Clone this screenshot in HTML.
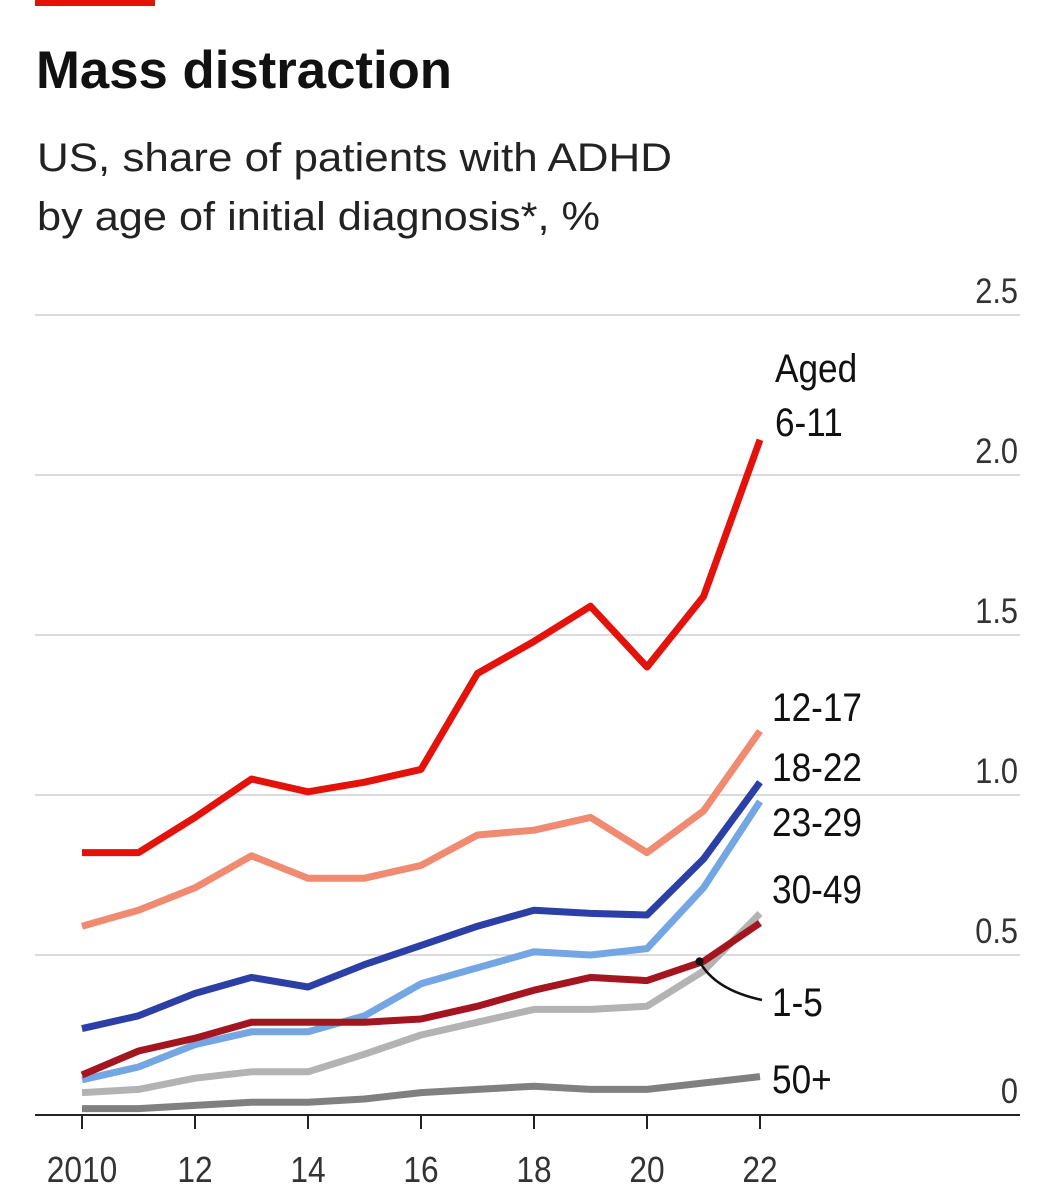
<!DOCTYPE html>
<html><head><meta charset="utf-8"><style>
html,body{margin:0;padding:0;background:#fff;}
svg{display:block;font-family:"Liberation Sans",sans-serif;}
</style></head><body>
<svg id="chart" width="1047" height="1200" viewBox="0 0 1047 1200">
<rect x="35" y="0" width="120" height="6" fill="#e3120b"/>
<text x="36" y="88" font-size="53" font-weight="bold" fill="#111" textLength="416" lengthAdjust="spacingAndGlyphs">Mass distraction</text>
<text x="37" y="171" font-size="40" fill="#222" textLength="635" lengthAdjust="spacingAndGlyphs">US, share of patients with ADHD</text>
<text x="37" y="230" font-size="40" fill="#222" textLength="563" lengthAdjust="spacingAndGlyphs">by age of initial diagnosis*, %</text>
<g id="grid"></g><g id="lines"></g><g id="labels"></g>
</svg>
<script>
const years=[2010,2011,2012,2013,2014,2015,2016,2017,2018,2019,2020,2021,2022];
const yTicks=[0,0.5,1.0,1.5,2.0,2.5];
const yTickLabels=["0","0.5","1.0","1.5","2.0","2.5"];
const xTicks=[2010,2012,2014,2016,2018,2020,2022];
const xTickLabels=["2010","12","14","16","18","20","22"];
const s50=[0.02,0.02,0.03,0.04,0.04,0.05,0.07,0.08,0.09,0.08,0.08,0.10,0.12];
const s30_49=[0.07,0.08,0.115,0.135,0.135,0.19,0.25,0.29,0.33,0.33,0.34,0.45,0.63];
const s1_5=[0.125,0.20,0.24,0.29,0.29,0.29,0.30,0.34,0.39,0.43,0.42,0.48,0.60];
const s23_29=[0.11,0.15,0.22,0.26,0.26,0.31,0.41,0.46,0.51,0.50,0.52,0.71,0.98];
const s18_22=[0.27,0.31,0.38,0.43,0.40,0.47,0.53,0.59,0.64,0.63,0.625,0.80,1.04];
const s12_17=[0.59,0.64,0.71,0.81,0.74,0.74,0.78,0.875,0.89,0.93,0.82,0.95,1.20];
const s6_11=[0.82,0.82,0.93,1.05,1.01,1.04,1.08,1.38,1.48,1.59,1.40,1.62,2.11];
const NS="http://www.w3.org/2000/svg";
const x=v=>82+(v-2010)*56.5;
const y=v=>1115-v*320;
function mk(tag,attrs,parent){const e=document.createElementNS(NS,tag);for(const k in attrs)e.setAttribute(k,attrs[k]);parent.appendChild(e);return e;}
const grid=document.getElementById('grid'),lines=document.getElementById('lines'),labels=document.getElementById('labels');
yTicks.forEach((t,i)=>{
  if(t>0){const l=mk('line',{x1:35,x2:1020,y1:y(t),y2:y(t),stroke:'#cfcfcf','stroke-width':1.5},grid);
  
  }
  const tx=mk('text',{x:1018,y:y(t)-12,'text-anchor':'end','font-size':35,fill:'#333',transform:`translate(${1018*0.12},0) scale(0.88,1)`},grid);
  tx.textContent=yTickLabels[i];
  
  
});
const base=mk('line',{x1:35,x2:1020,y1:y(0),y2:y(0),stroke:'#222','stroke-width':2},grid);


xTicks.forEach((t,i)=>{
  const tk=mk('line',{x1:x(t),x2:x(t),y1:y(0),y2:y(0)+14,stroke:'#222','stroke-width':2},grid);
  
  
  const tx=mk('text',{x:x(t),y:1182,'text-anchor':'middle','font-size':36,fill:'#333',transform:`translate(${x(t)*0.12},0) scale(0.88,1)`},grid);
  tx.textContent=xTickLabels[i];
  
  
});
const series=[
 ['line-50-plus',s50,'#808080'],
 ['line-30-49',s30_49,'#b3b3b3'],
 ['line-23-29',s23_29,'#74a6e4'],
 ['line-1-5',s1_5,'#a4161f'],
 ['line-18-22',s18_22,'#2b3fa6'],
 ['line-12-17',s12_17,'#f08a70'],
 ['line-6-11',s6_11,'#e3120b']];
series.forEach(([n,d,c])=>{
  const p=mk('polyline',{points:d.map((v,i)=>x(years[i])+','+y(v)).join(' '),fill:'none',stroke:c,'stroke-width':7,'stroke-linejoin':'round'},lines);
  
  
});
const ld=mk('path',{d:`M${x(2021)-4},${y(0.48)} Q715,990 762,1000`,fill:'none',stroke:'#111','stroke-width':2.5},labels);


const dot=mk('circle',{cx:x(2021)-4,cy:y(0.48),r:4,fill:'#111'},labels);


const lab=[['Aged',775,382],['6-11',775,436],['12-17',772,721],['18-22',772,781],['23-29',772,836],['30-49',772,903],['1-5',772,1016],['50+',772,1093]];
lab.forEach(([t,lx,ly])=>{
  const tx=mk('text',{x:lx,y:ly,'font-size':40,fill:'#111',transform:`translate(${lx*0.12},0) scale(0.88,1)`},labels);
  tx.textContent=t;
  
  
});
</script>
</body></html>
